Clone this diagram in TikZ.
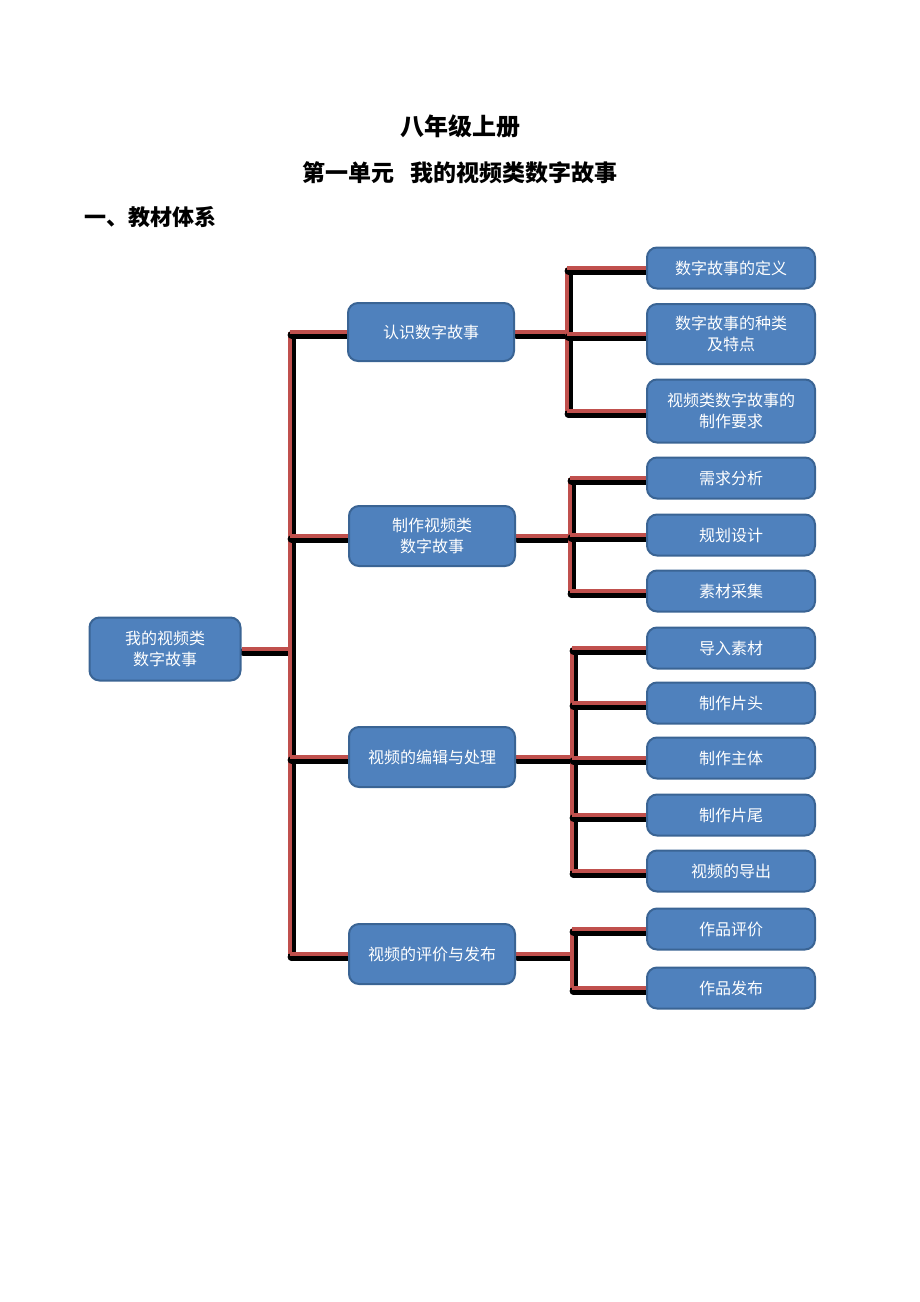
\documentclass[tikz,border=0pt]{standalone}
\usepackage{fontspec}
\newfontfamily\cjk{Noto Sans CJK SC}
\usetikzlibrary{positioning,backgrounds}
\definecolor{boxblue}{HTML}{4F81BD}
\definecolor{boxline}{HTML}{3A6494}
\definecolor{wirered}{HTML}{C0504D}
\tikzset{
  box/.style={draw=boxline, fill=boxblue, line width=1pt, rounded corners=5pt,
    text=white, align=center, inner sep=0pt,
    font=\cjk\fontsize{8}{10.5}\selectfont},
  leaf/.style={box, minimum width=84pt, minimum height=20.5pt},
  mid/.style={box, minimum width=83pt, minimum height=30pt},
  blackwire/.style={line width=4pt, black, line cap=round,
    transform canvas={shift={(0.8pt,-1.5pt)}}},
  redwire/.style={line width=2.2pt, wirered},
  head/.style={font=\cjk\bfseries\fontsize{12}{14}\selectfont}
}
\newcommand\wire[1]{\draw[blackwire] #1; \draw[redwire] #1;}
\begin{document}
\begin{tikzpicture}[x=0.5pt,y=-0.5pt]
  \useasboundingbox (0,0) rectangle (920,1302);
  % headings
  \node[head] (title) at (460,126) {八年级上册};
  \node[head, font=\cjk\bfseries\fontsize{11.5}{14}\selectfont] (unit) at (460,173) {第一单元\hspace{0.7em}我的视频类数字故事};
  \node[head, anchor=west, font=\cjk\bfseries\fontsize{11}{13}\selectfont] (part) at (77,217) {一、教材体系};

  % root and first level
  \node[box, minimum width=75.5pt, minimum height=31.5pt] (root) at (165,649) {我的视频类\\数字故事};
  \node[mid, minimum height=29pt] (ka) at (431,332) {认识数字故事};
  \node[mid] (kb) at (432,536) {制作视频类\\数字故事};
  \node[mid] (kc) at (432,757) {视频的编辑与处理};
  \node[mid] (kd) at (432,954) {视频的评价与发布};

  % leaves
  \node[leaf] (a1) at (731,268) {数字故事的定义};
  \node[leaf, minimum height=30pt] (a2) at (731,334) {数字故事的种类\\及特点};
  \node[leaf, minimum height=31.5pt] (a3) at (731,411) {视频类数字故事的\\制作要求};
  \node[leaf] (b1) at (731,478) {需求分析};
  \node[leaf] (b2) at (731,535) {规划设计};
  \node[leaf] (b3) at (731,591) {素材采集};
  \node[leaf] (c1) at (731,648) {导入素材};
  \node[leaf] (c2) at (731,703) {制作片头};
  \node[leaf] (c3) at (731,758) {制作主体};
  \node[leaf] (c4) at (731,815) {制作片尾};
  \node[leaf] (c5) at (731,871) {视频的导出};
  \node[leaf] (d1) at (731,929) {作品评价};
  \node[leaf] (d2) at (731,988) {作品发布};

  % buses
  \coordinate (b0) at (290,0);
  \coordinate (ba) at (567,0);
  \coordinate (bb) at (570,0);
  \coordinate (bc) at (572,0);
  \coordinate (bd) at (572,0);

  % connectors, behind the boxes
  \begin{pgfonlayer}{background}
  \wire{(root.east) -- (root.east -| b0)}
  \wire{(b0 |- ka.west) -- (b0 |- kd.west)}
  \foreach \k in {ka,kb,kc,kd}
    {\wire{(b0 |- \k.west) -- (\k.west)}}

  \wire{(ka.east) -- (ka.east -| ba)}
  \wire{(ba |- a1.west) -- (ba |- a3.west)}
  \foreach \n in {a1,a2,a3}
    {\wire{(ba |- \n.west) -- (\n.west)}}

  \wire{(kb.east) -- (kb.east -| bb)}
  \wire{(bb |- b1.west) -- (bb |- b3.west)}
  \foreach \n in {b1,b2,b3}
    {\wire{(bb |- \n.west) -- (\n.west)}}

  \wire{(kc.east) -- (kc.east -| bc)}
  \wire{(bc |- c1.west) -- (bc |- c5.west)}
  \foreach \n in {c1,c2,c3,c4,c5}
    {\wire{(bc |- \n.west) -- (\n.west)}}

  \wire{(kd.east) -- (kd.east -| bd)}
  \wire{(bd |- d1.west) -- (bd |- d2.west)}
  \foreach \n in {d1,d2}
    {\wire{(bd |- \n.west) -- (\n.west)}}
  \end{pgfonlayer}
\end{tikzpicture}
\end{document}
